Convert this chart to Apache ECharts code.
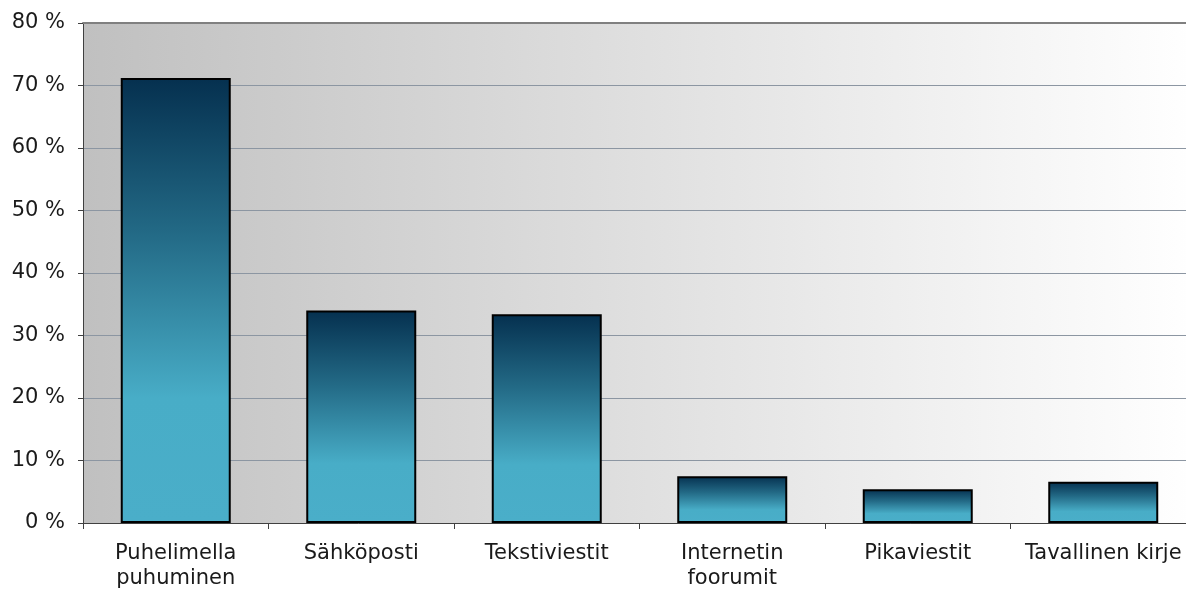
<!DOCTYPE html>
<html>
<head>
<meta charset="utf-8">
<script src="https://cdn.jsdelivr.net/npm/echarts@6/dist/echarts.min.js"></script>
<style>
  html, body { margin: 0; padding: 0; background: #fff; }
  #main { width: 1186px; height: 590px; }
</style>
</head>
<body>
<div id="main"></div>
<script>
// kategoriat ja osuudet (%)
const categories = ['Puhelimella\npuhuminen', 'Sähköposti', 'Tekstiviestit', 'Internetin\nfoorumit', 'Pikaviestit', 'Tavallinen kirje'];
const shares = [71.2, 34.0, 33.4, 7.5, 5.4, 6.6];
const yTicks = [0, 10, 20, 30, 40, 50, 60, 70, 80];

let chart = echarts.init(document.getElementById('main'));
let font = 'DejaVu Sans, Verdana, sans-serif';

let option = {
    animation: false,
    grid: {
        left: 83,
        top: 23,
        width: 1113,
        height: 500,
        outerBoundsMode: 'none',
        containLabel: false,
        show: true,
        borderWidth: 0,
        // taustan liukuväri vasemmalta oikealle
        backgroundColor: new echarts.graphic.LinearGradient(0, 0, 1, 0, [
            { offset: 0, color: '#c0c0c0' },
            { offset: 1, color: '#ffffff' }
        ])
    },
    xAxis: [{
        type: 'category',
        data: categories,
        axisLine: { lineStyle: { color: '#404040', width: 1 } },
        axisTick: { show: true, length: 6, lineStyle: { color: '#404040' } },
        axisLabel: {
            color: '#1a1a1a',
            fontFamily: font,
            fontSize: 21,
            margin: 18,
            lineHeight: 25,
            interval: 0
        }
    }, {
        // yläreunan harmaa viiva
        type: 'category',
        position: 'top',
        data: categories,
        axisLine: { lineStyle: { color: '#808080', width: 2 } },
        axisTick: { show: false },
        axisLabel: { show: false }
    }],
    yAxis: {
        type: 'value',
        min: yTicks[0],
        max: yTicks[yTicks.length - 1],
        interval: 10,
        axisLine: { show: true, lineStyle: { color: '#404040', width: 1 } },
        axisTick: { show: true, length: 5, lineStyle: { color: '#404040' } },
        axisLabel: {
            formatter: '{value} %',
            color: '#1a1a1a',
            fontFamily: font,
            fontSize: 21,
            margin: 18
        },
        splitLine: { lineStyle: { color: '#8c96a2', width: 1 } }
    },
    series: [{
        type: 'bar',
        data: shares,
        barWidth: 110,
        itemStyle: {
            borderColor: '#000',
            borderWidth: 2,
            color: new echarts.graphic.LinearGradient(0, 0, 0, 1, [
                { offset: 0, color: '#05304f' },
                { offset: 0.35, color: '#236a86' },
                { offset: 0.72, color: '#48adc7' },
                { offset: 1, color: '#4aaec9' }
            ])
        }
    }]
};
chart.setOption(option);
</script>
</body>
</html>
